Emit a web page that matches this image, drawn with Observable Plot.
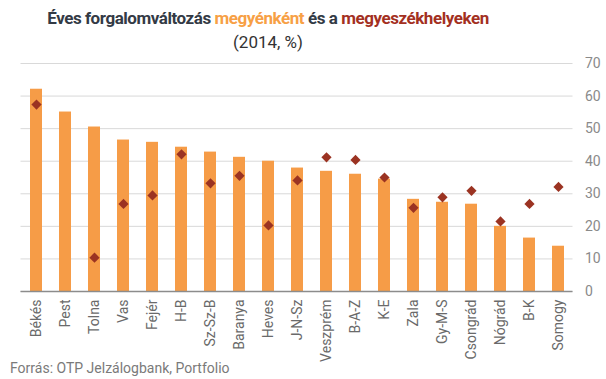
<!DOCTYPE html>
<html>
<head>
<meta charset="utf-8">
<script src="https://cdn.jsdelivr.net/npm/d3@7"></script>
<script src="https://cdn.jsdelivr.net/npm/@observablehq/plot@0.6"></script>
<style>
  html, body { margin: 0; padding: 0; background: #fff; }
  body { width: 606px; height: 379px; position: relative; overflow: hidden; font-family: Roboto, sans-serif; }
  #title { position: absolute; left: 0; top: 7px; width: 536px; text-align: center; font-size: 17px; font-weight: bold; color: #333a45; line-height: 22px; letter-spacing: -0.45px; }
  #subtitle { position: absolute; left: 0; top: 31px; width: 536px; text-align: center; font-size: 17px; color: #333; line-height: 22px; }
  #chart { position: absolute; left: 0; top: 56px; }
  #caption { position: absolute; left: 10px; top: 359px; font-size: 14px; color: #7a7a7a; line-height: 18px; }
  .o { color: #f7a045; }
  .r { color: #a3301f; }
</style>
</head>
<body>
<div id="title">Éves forgalomváltozás <span class="o">megyénként</span> és a <span class="r">megyeszékhelyeken</span></div>
<div id="subtitle">(2014, %)</div>
<div id="chart"></div>
<div id="caption">Forrás: OTP Jelzálogbank, Portfolio</div>
<script>
const categories = ["Békés","Pest","Tolna","Vas","Fejér","H-B","Sz-Sz-B","Baranya","Heves","J-N-Sz","Veszprém","B-A-Z","K-E","Zala","Gy-M-S","Csongrád","Nógrád","B-K","Somogy"];
const megyek = [62.1,55.1,50.5,46.5,45.8,44.3,42.8,41.2,40.0,37.9,36.9,36.0,34.5,28.3,27.4,26.8,20.0,16.4,13.9];
const szekhelyek = [57.4,null,10.4,26.9,29.5,42.1,33.2,35.5,20.3,34.1,41.2,40.4,35.0,25.7,28.9,30.9,21.5,26.9,32.1];
const yTicks = [0,10,20,30,40,50,60,70];

const bars = categories.map((c, i) => ({cat: c, v: megyek[i]}));
const dots = categories.map((c, i) => ({cat: c, v: szekhelyek[i]})).filter(d => d.v != null);

const chart = Plot.plot({
  width: 606,
  height: 310,
  marginTop: 7,
  marginBottom: 75,
  marginLeft: 20.5,
  marginRight: 33.5,
  style: {fontFamily: "Roboto, sans-serif", fontSize: "14px", background: "transparent", overflow: "visible"},
  x: {domain: categories, paddingInner: 0.587, paddingOuter: 0.29, label: null},
  y: {domain: [0, 70], label: null},
  marks: [
    Plot.gridY(yTicks, {stroke: "#d9d9d9", strokeOpacity: 1, strokeWidth: 1}),
    Plot.barY(bars, {x: "cat", y: "v", fill: "#f69c47"}),
    Plot.ruleY([0], {stroke: "#8c8c8c", strokeWidth: 1.5}),
    Plot.dot(dots, {x: "cat", y: "v", symbol: "diamond2", r: 4.6, fill: "#9b3322", stroke: "none"}),
    Plot.axisY(yTicks, {anchor: "right", tickSize: 0, tickPadding: 12, fill: "#8a8a8a", fontSize: 14, label: null}),
    Plot.axisX({tickSize: 0, tickPadding: 8, tickRotate: -90, fill: "#6a6a6a", fontSize: 14, label: null})
  ]
});
document.getElementById("chart").appendChild(chart);
</script>
</body>
</html>
